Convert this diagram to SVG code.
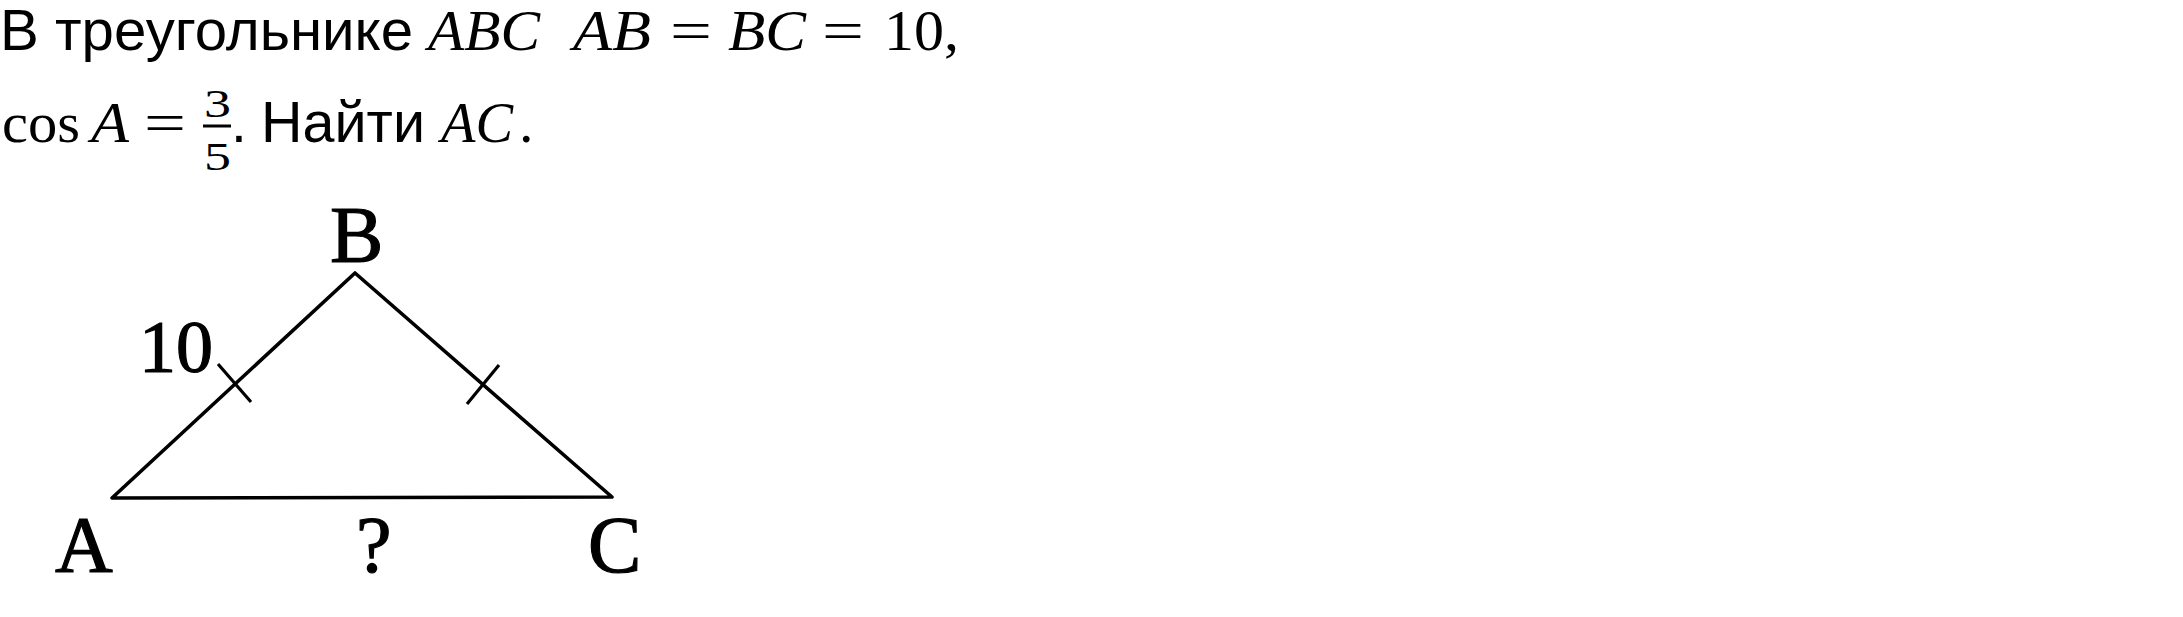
<svg xmlns="http://www.w3.org/2000/svg" width="2183" height="617" viewBox="0 0 2183 617">
<style>
.sans{font-family:"Liberation Sans",Arial,sans-serif;font-size:57px;fill:#000}
.mi{font-family:"Liberation Serif","DejaVu Serif",serif;font-style:italic;font-size:58px;fill:#000}
.mr{font-family:"Liberation Serif","DejaVu Serif",serif;font-size:58px;fill:#000}
.lbl{font-family:"Liberation Serif","DejaVu Serif",serif;font-size:80px;fill:#000;stroke:#000;stroke-width:1.2}
.edge{stroke:#000;stroke-width:3.6;fill:none;stroke-linecap:round;stroke-linejoin:round}
.tick{stroke:#000;stroke-width:3.2;fill:none}
</style>
<rect width="2183" height="617" fill="#fff"/>
<g id="problem-text">
<text class="sans" x="0" y="50" textLength="413" lengthAdjust="spacingAndGlyphs">В треугольнике</text>
<text class="mi" x="428" y="50" textLength="112" lengthAdjust="spacingAndGlyphs">ABC</text>
<text class="mi" x="573" y="50" textLength="78" lengthAdjust="spacingAndGlyphs">AB</text>
<text class="mr" x="670" y="50" textLength="42" lengthAdjust="spacingAndGlyphs">=</text>
<text class="mi" x="728" y="50" textLength="78" lengthAdjust="spacingAndGlyphs">BC</text>
<text class="mr" x="822" y="50" textLength="42" lengthAdjust="spacingAndGlyphs">=</text>
<text class="mr" x="884" y="50" textLength="75" lengthAdjust="spacingAndGlyphs">10,</text>
<text class="mr" x="2" y="142" textLength="78" lengthAdjust="spacingAndGlyphs">cos</text>
<text class="mi" x="91" y="142" textLength="38" lengthAdjust="spacingAndGlyphs">A</text>
<text class="mr" x="144" y="142" textLength="42" lengthAdjust="spacingAndGlyphs">=</text>
<text class="mr" x="204" y="117" style="font-size:40px" textLength="27" lengthAdjust="spacingAndGlyphs">3</text>
<rect x="203" y="124.5" width="28" height="3" fill="#000"/>
<text class="mr" x="204" y="170" style="font-size:40px" textLength="27" lengthAdjust="spacingAndGlyphs">5</text>
<text class="sans" x="231" y="142">.</text>
<text class="sans" x="261" y="142" textLength="164" lengthAdjust="spacingAndGlyphs">Найти</text>
<text class="mi" x="441" y="142" textLength="72" lengthAdjust="spacingAndGlyphs">AC</text>
<text class="mr" x="519" y="142">.</text>
</g>
<g id="connectors">
<path class="edge" d="M112,498 L355,273 L612,497 Z"/>
<line class="tick" x1="218" y1="364" x2="251" y2="402"/>
<line class="tick" x1="499" y1="365" x2="467" y2="404"/>
</g>
<g id="node-B"><text class="lbl" x="330" y="262">B</text></g>
<g id="node-A"><text class="lbl" x="55" y="572">A</text></g>
<g id="node-C"><text class="lbl" x="588" y="572">C</text></g>
<g id="label-AB"><text class="lbl" x="139" y="372" style="font-size:74px">10</text></g>
<g id="label-AC"><text class="lbl" x="356" y="572">?</text></g>
</svg>
